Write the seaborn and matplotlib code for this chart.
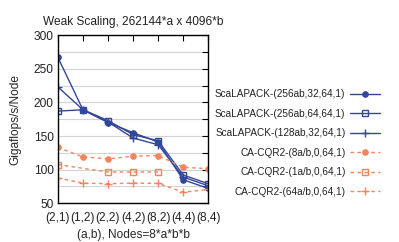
import numpy as np
import matplotlib
matplotlib.use("Agg")
import matplotlib.pyplot as plt
from matplotlib.ticker import MultipleLocator
import seaborn as sns

# data
configs = ["(2,1)", "(1,2)", "(2,2)", "(4,2)", "(8,2)", "(4,4)", "(8,4)"]

scalapack_256_32 = [267, 189, 170, 155, 141, 85, 72]
scalapack_256_64 = [187, 189, 173, 152, 143, 92, 79]
scalapack_128_32 = [223, 189, 171, 147, 137, 89, 76]
cacqr2_8 = [133, 119, 116, 120, 121, 103.5, 101.5]
cacqr2_1 = [107.5, np.nan, 96.5, 96.5, 96.5, np.nan, np.nan]
cacqr2_64 = [87.5, 80, 79, 80, 79.5, 66.5, 70.5]

labels = ["ScaLAPACK-(256ab,32,64,1)", "ScaLAPACK-(256ab,64,64,1)",
          "ScaLAPACK-(128ab,32,64,1)", "CA-CQR2-(8a/b,0,64,1)",
          "CA-CQR2-(1a/b,0,64,1)", "CA-CQR2-(64a/b,0,64,1)"]

blue = "#33479a"
orange = "#f4845c"

sns.set_style("white")
plt.rcParams['font.family'] = ['Liberation Sans', 'DejaVu Sans']
plt.rcParams['text.color'] = '#222222'

fig, ax = plt.subplots(figsize=(3.99, 2.42), dpi=100)
fig.subplots_adjust(left=0.145, right=0.522, top=0.855, bottom=0.16)

series = [scalapack_256_32, scalapack_256_64, scalapack_128_32,
          cacqr2_8, cacqr2_1, cacqr2_64]
dash = (0, (2.5, 2.5))
styles = [
    dict(color=blue, marker="o", linestyle="-", markersize=4),
    dict(color=blue, marker="s", linestyle="-", markersize=5,
         markerfacecolor="none", markeredgewidth=1),
    dict(color=blue, marker="+", linestyle="-", markersize=6,
         markeredgewidth=1),
    dict(color=orange, marker="o", linestyle=dash, markersize=4),
    dict(color=orange, marker="s", linestyle=dash, markersize=5,
         markerfacecolor="none", markeredgewidth=1),
    dict(color=orange, marker="+", linestyle=dash, markersize=6,
         markeredgewidth=1),
]

pos = np.arange(len(configs))
for vals, lab, st in zip(series, labels, styles):
    vals = np.asarray(vals, dtype=float)
    keep = ~np.isnan(vals)
    sns.lineplot(x=pos[keep], y=vals[keep], ax=ax, label=lab, linewidth=1,
                 markeredgecolor=st["color"], sort=False, **st)

# axes styling
ax.set_xlim(0, len(configs) - 1)
ax.set_ylim(50, 300)
ax.set_xticks(pos)
ax.set_xticklabels(configs)
ax.yaxis.set_major_locator(MultipleLocator(50))
ax.yaxis.set_minor_locator(MultipleLocator(25))
ax.grid(axis="y", which="both", color="#d4d4d4", linewidth=0.8)
ax.set_axisbelow(True)
ax.tick_params(which="both", direction="in", top=True, right=True,
               length=4, width=0.8, color="black", labelsize=8.6,
               pad=3, labelcolor="#222222")
ax.tick_params(axis="x", pad=6)
for sp in ax.spines.values():
    sp.set_color("black")
    sp.set_linewidth(1)

ax.set_title("Weak Scaling, 262144*a x 4096*b", fontsize=8.6, pad=7)
ax.set_xlabel("(a,b), Nodes=8*a*b*b", fontsize=8.6, labelpad=4)
ax.set_ylabel("Gigaflops/s/Node", fontsize=8.6, labelpad=9)

handles, labs = ax.get_legend_handles_labels()
ax.get_legend().remove()
fig.legend(handles, labs, loc="center right", bbox_to_anchor=(0.966, 0.409),
           frameon=False, markerfirst=False, fontsize=7.2, handlelength=3.0,
           labelspacing=0.95, borderpad=0, handletextpad=0.5)

fig.savefig("out.png", dpi=100)
